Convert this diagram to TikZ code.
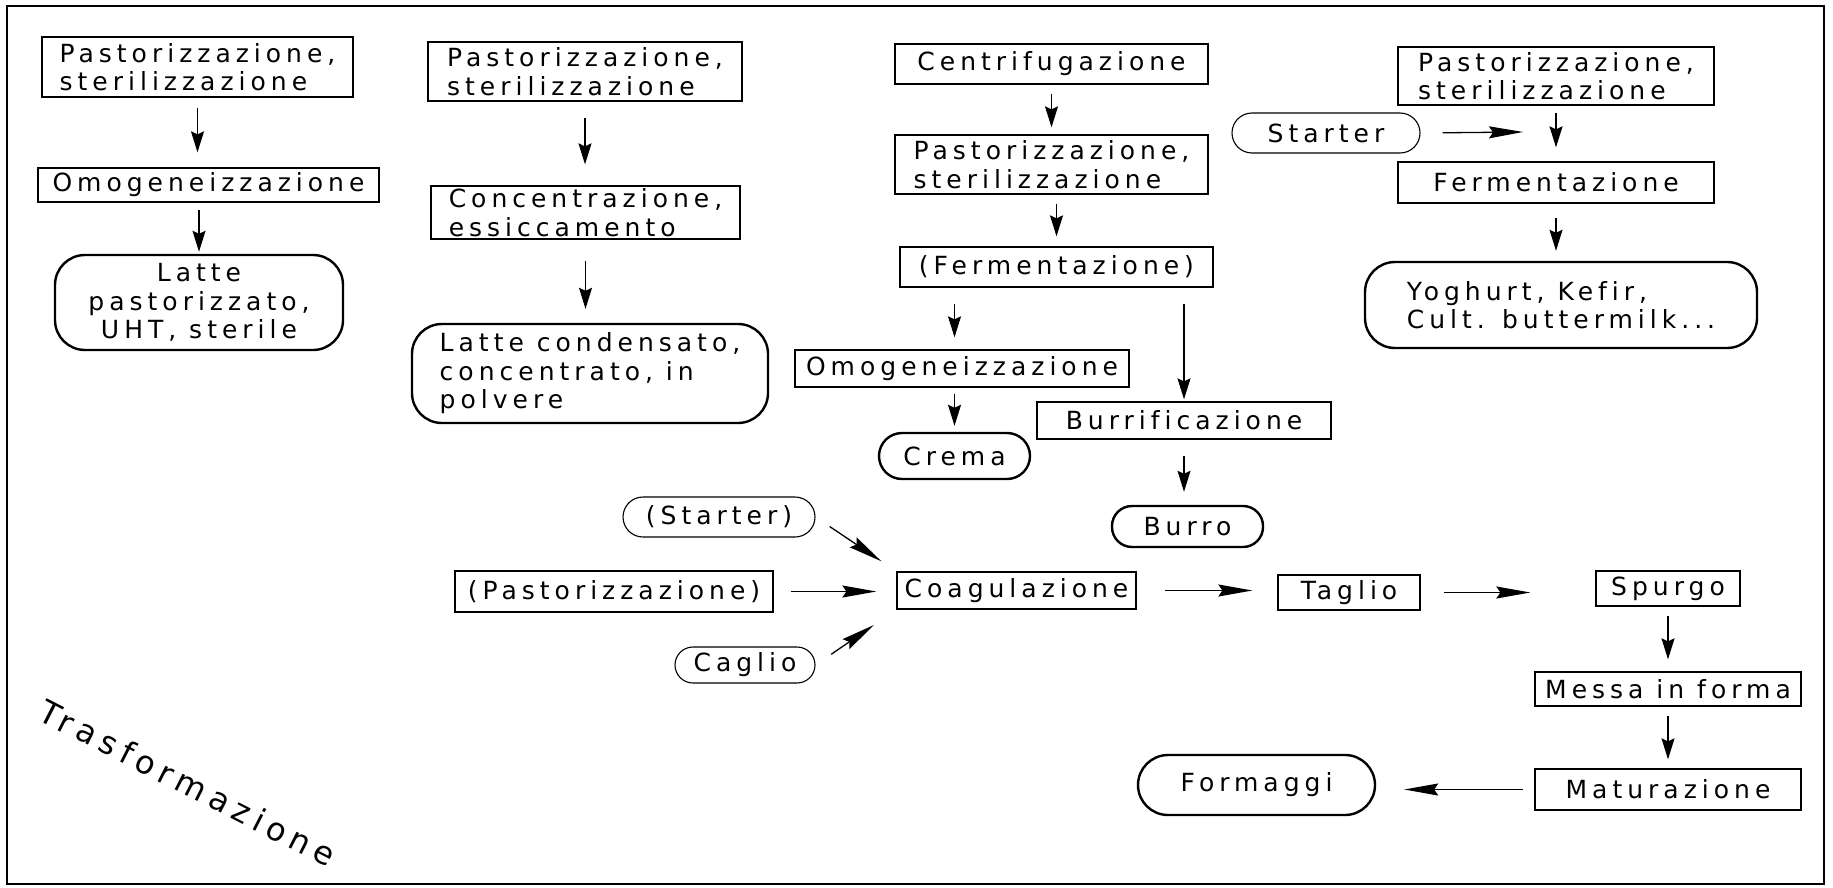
\documentclass[tikz,border=0pt]{standalone}
\usepackage{fontspec}
\setmainfont{DejaVu Sans}[LetterSpace=20, Ligatures=NoCommon]
\usetikzlibrary{arrows.meta,positioning}

\tikzset{
  testo/.style={font=\fontsize{25}{28.5}\selectfont, inner sep=0pt},
  fase/.style={testo, draw, line width=1.3pt, align=left},
  prodotto/.style={testo, draw, line width=2.4pt, rounded corners=30pt},
  esito/.style={testo, draw, line width=2.4pt, rounded corners=#1},
  esito/.default=20pt,
  ingresso/.style={testo, draw, line width=1.1pt, rounded corners=#1},
  ingresso/.default=20pt,
  freccia/.style={line width=1.3pt, -{Stealth[length=21pt,width=13pt,inset=3pt]}},
  frecciah/.style={line width=1.3pt, -{Stealth[length=34pt,width=12pt,inset=4pt]}},
}

\begin{document}
\begin{tikzpicture}[x=1pt,y=1pt,yscale=-1]
\useasboundingbox (0,0) rectangle (1833,888);

% cornice
\draw [line width=1.5pt] (7,6) rectangle (1824,884);

% latte alimentare
\node [fase, minimum width=311pt, minimum height=60pt] (past1) at (197.5,67) {Pastorizzazione,\\sterilizzazione};
\node [fase, minimum width=341pt, minimum height=34pt] (omog1) at (208.5,185) {Omogeneizzazione};
\node [prodotto, align=center, minimum width=288pt, minimum height=95pt] (latte1) at (199,302.5) {Latte\\pastorizzato,\\UHT, sterile};

% latte conservato
\node [fase, minimum width=314pt, minimum height=59pt] (past2) at (585,71.5) {Pastorizzazione,\\sterilizzazione};
\node [fase, minimum width=309pt, minimum height=53pt] (conc) at (585.5,212.5) {Concentrazione,\\essiccamento};
\node [prodotto, align=left, minimum width=356pt, minimum height=99pt] (latte2) at (590,373.5) {Latte condensato,\\concentrato, in\\polvere};

% crema e burro
\node [fase, minimum width=313pt, minimum height=40pt] (centr) at (1051.5,64) {Centrifugazione};
\node [fase, minimum width=313pt, minimum height=59pt] (past3) at (1051.5,164.5) {Pastorizzazione,\\sterilizzazione};
\node [fase, minimum width=313pt, minimum height=40pt] (ferm3) at (1056.5,267) {(Fermentazione)};
\node [fase, minimum width=334pt, minimum height=37pt] (omog2) at (962,368.5) {Omogeneizzazione};
\node [esito=23pt, minimum width=151pt, minimum height=46pt] (crema) at (954.5,456) {Crema};
\node [fase, minimum width=294pt, minimum height=37pt] (burrif) at (1184,420.5) {Burrificazione};
\node [esito=20pt, minimum width=151pt, minimum height=41pt] (burro) at (1187.5,526.5) {Burro};

% latti fermentati
\node [fase, minimum width=316pt, minimum height=58pt] (past4) at (1556,76) {Pastorizzazione,\\sterilizzazione};
\node [ingresso=20pt, minimum width=188pt, minimum height=40pt] (starter) at (1326,133) {Starter};
\node [fase, minimum width=316pt, minimum height=41pt] (ferm4) at (1556,182.5) {Fermentazione};
\node [prodotto, align=left, minimum width=392pt, minimum height=86pt] (yog) at (1561,305) {Yoghurt, Kefir,\\Cult. buttermilk...};
\coordinate (innesto) at (1523,132);

% formaggi
\node [ingresso=20pt, minimum width=192pt, minimum height=40pt] (starterB) at (719,517) {(Starter)};
\node [fase, minimum width=318pt, minimum height=41pt] (pastB) at (614,591.5) {(Pastorizzazione)};
\node [ingresso=18pt, minimum width=140pt, minimum height=36pt] (caglio) at (745,665) {Caglio};
\node [fase, minimum width=239pt, minimum height=37pt] (coag) at (1016.5,590.5) {Coagulazione};
\node [fase, minimum width=142pt, minimum height=35pt] (taglio) at (1349,592.5) {Taglio};
\node [fase, minimum width=144pt, minimum height=35pt] (spurgo) at (1668,588.5) {Spurgo};
\node [fase, minimum width=266pt, minimum height=34pt] (messa) at (1668,689) {Messa in forma};
\node [fase, minimum width=266pt, minimum height=41pt] (matur) at (1668,789.5) {Maturazione};
\node [esito=30pt, minimum width=237pt, minimum height=60pt] (formaggi) at (1256.5,785) {Formaggi};

\node [font=\fontsize{32}{36}\selectfont, rotate=-27] (titolo) at (188,783) {Trasformazione};

% frecce
\draw [freccia, shorten <=10pt, shorten >=15pt] (past1) -- (past1 |- omog1.north);
\draw [freccia, shorten <=7pt, shorten >=2pt] (omog1.south -| latte1) -- (latte1.north);
\draw [freccia, shorten <=16pt, shorten >=21pt] (past2) -- (past2 |- conc.north);
\draw [freccia, shorten <=21pt, shorten >=14pt] (conc) -- (conc |- latte2.north);
\draw [freccia, shorten <=9pt, shorten >=7pt] (centr) -- (past3);
\draw [freccia, shorten <=9pt, shorten >=10pt] (past3.south -| ferm3) -- (ferm3);
\draw [freccia, shorten <=16pt, shorten >=12pt] (ferm3.south -| crema) -- (omog2.north -| crema);
\draw [freccia, shorten <=16pt, shorten >=2pt] (ferm3.south -| burrif) -- (burrif);
\draw [freccia, shorten <=6pt, shorten >=6pt] (omog2.south -| crema) -- (crema);
\draw [freccia, shorten <=16pt, shorten >=13pt] (burrif) -- (burrif |- burro.north);
\draw [frecciah, shorten <=22pt] (starter.east) -- (innesto);
\draw [freccia, shorten <=7pt, shorten >=14pt] (past4) -- (ferm4);
\draw [freccia, shorten <=14pt, shorten >=10pt] (ferm4) -- (ferm4 |- yog.north);

\draw [frecciah, shorten <=17pt, shorten >=18pt] (starterB.east) -- (coag.north west);
\draw [frecciah, shorten <=17pt, shorten >=20pt] (pastB) -- (pastB -| coag.west);
\draw [frecciah, shorten <=19pt, shorten >=27pt] (caglio.east) -- (coag.south west);
\draw [frecciah, shorten <=28pt, shorten >=25pt] (coag) -- (coag -| taglio.west);
\draw [frecciah, shorten <=23pt, shorten >=65pt] (taglio) -- (taglio -| spurgo.west);
\draw [freccia, shorten <=9pt, shorten >=12pt] (spurgo) -- (messa);
\draw [freccia, shorten <=9pt, shorten >=9pt] (messa) -- (matur);
\draw [frecciah, shorten <=11pt, shorten >=28pt] (matur) -- (matur -| formaggi.east);

\end{tikzpicture}
\end{document}
